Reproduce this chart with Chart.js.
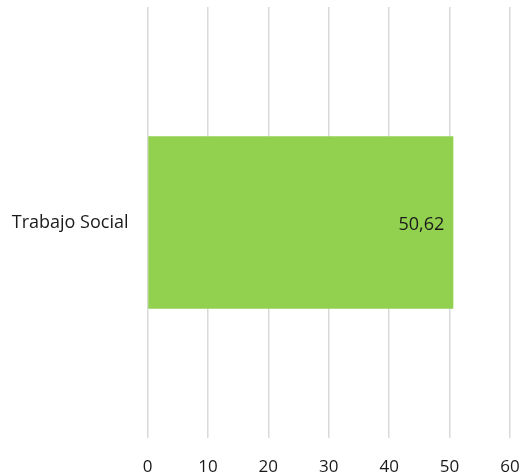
<!DOCTYPE html>
<html>
<head>
<meta charset="utf-8">
<script src="https://cdn.jsdelivr.net/npm/chart.js@4"></script>
<style>
  html, body { margin: 0; padding: 0; background: #fff; }
  #wrap { width: 532px; height: 476px; }
</style>
</head>
<body>
<div id="wrap"><canvas id="barChart"></canvas></div>
<script>
// data
const categories = ['Trabajo Social'];
const values = [50.62];
const xMin = 0;
const xMax = 60;
const xStep = 10;

// value label drawn inside the bar end
const valueLabels = {
  id: 'valueLabels',
  afterDatasetsDraw(chart) {
    const { ctx } = chart;
    const meta = chart.getDatasetMeta(0);
    ctx.save();
    ctx.font = '18px "Open Sans"';
    ctx.fillStyle = '#1a1a1a';
    ctx.textAlign = 'right';
    ctx.textBaseline = 'middle';
    meta.data.forEach((bar, i) => {
      const txt = values[i].toFixed(2).replace('.', ',');
      ctx.fillText(txt, bar.x - 9, bar.y + 2);
    });
    ctx.restore();
  }
};

const ctx = document.getElementById('barChart').getContext('2d');
new Chart(ctx, {
  type: 'bar',
  data: {
    labels: categories,
    datasets: [{
      data: values,
      backgroundColor: '#92d050',
      borderWidth: 0,
      barPercentage: 0.4,
      categoryPercentage: 1.0,
    }]
  },
  options: {
    indexAxis: 'y',
    responsive: true,
    maintainAspectRatio: false,
    animation: false,
    layout: { padding: { top: 7, right: 22, left: 0, bottom: 0 } },
    plugins: {
      legend: { display: false },
      tooltip: { enabled: false }
    },
    scales: {
      x: {
        min: xMin,
        max: xMax,
        ticks: {
          stepSize: xStep,
          color: '#1a1a1a',
          font: { family: 'Open Sans', size: 17 },
          padding: 19,
        },
        grid: { color: '#d9d9d9', lineWidth: 1.5, drawTicks: false },
        border: { display: false },
        afterFit(scale) { scale.height = 38; scale.paddingRight = 0; }
      },
      y: {
        ticks: {
          color: '#1a1a1a',
          font: { family: 'Open Sans', size: 18 },
          padding: 19,
        },
        grid: { display: false, drawTicks: false },
        border: { display: false },
        afterFit(scale) {
          scale.width = 147.5;
          scale.paddingTop = 0;
          scale.paddingBottom = 0;
        }
      }
    }
  },
  plugins: [valueLabels]
});
</script>
</body>
</html>
